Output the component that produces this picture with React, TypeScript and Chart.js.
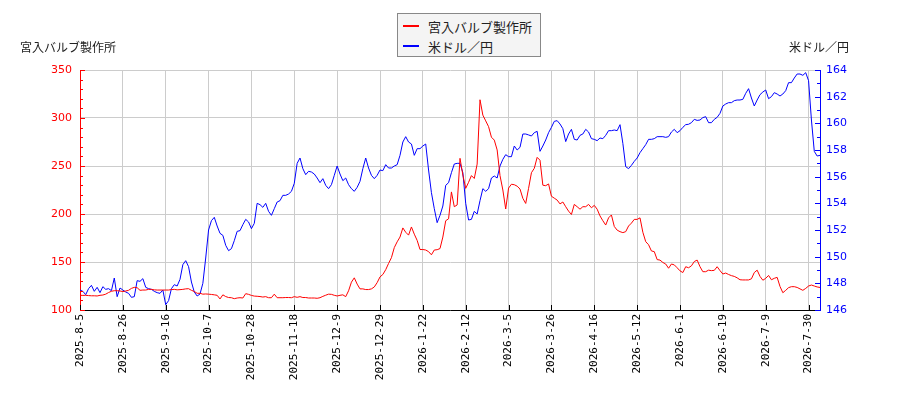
import { useEffect, useRef } from "react";
import { Chart, registerables } from "chart.js";

Chart.register(...registerables);

// x軸の目盛ラベル（15営業日ごと）
const tickLabels = [
  "2025-8-5", "2025-8-26", "2025-9-16", "2025-10-7", "2025-10-28", "2025-11-18",
  "2025-12-9", "2025-12-29", "2026-1-22", "2026-2-12", "2026-3-5", "2026-3-26",
  "2026-4-16", "2026-5-12", "2026-6-1", "2026-6-19", "2026-7-9", "2026-7-30",
];
const tickStep = 15;

// 宮入バルブ製作所 株価（円）
const stockPrice = [
  115.3, 115.2, 115.3, 115.0, 114.8, 114.8, 114.6, 115.3, 115.6, 116.5,
  118.2, 119.5, 120.1, 120.1, 119.8, 119.2, 119.8, 120.5, 122.5, 123.6,
  123.2, 120.5, 120.8, 120.8, 121.5, 121.5, 121.0, 120.8, 120.8, 120.8,
  120.8, 120.8, 121.3, 121.5, 121.0, 121.2, 121.5, 122.0, 122.2, 120.5,
  119.3, 117.4, 117.4, 116.5, 116.7, 116.5, 116.2, 115.8, 115.3, 111.5,
  115.8, 114.0, 113.0, 112.8, 111.8, 112.5, 112.8, 112.5, 117.0, 116.3,
  115.2, 114.5, 114.3, 114.0, 113.5, 113.9, 112.8, 112.8, 116.5, 112.8,
  112.8, 112.8, 113.0, 113.0, 112.8, 113.9, 113.2, 113.9, 113.0, 113.0,
  112.5, 112.5, 112.5, 112.2, 112.8, 114.2, 115.4, 116.5, 116.3, 115.3,
  114.6, 115.3, 115.8, 113.9, 120.0, 129.0, 133.5, 127.0, 122.0, 122.0,
  121.3, 121.3, 122.0, 124.0, 128.5, 134.5, 137.0, 142.0, 148.5, 154.5,
  165.0, 171.0, 176.0, 185.5, 181.0, 178.0, 186.5, 179.0, 172.5, 163.0,
  163.0, 162.5, 160.8, 157.5, 162.5, 162.8, 164.0, 176.0, 193.0, 195.0,
  223.0, 207.6, 209.4, 258.0, 240.6, 226.7, 233.0, 240.0, 237.0, 252.0,
  319.0, 303.0, 297.0, 291.0, 280.0, 277.0, 266.7, 240.0, 225.0, 205.2,
  227.0, 231.0, 230.5, 229.0, 226.0, 216.3, 211.0, 226.7, 243.0, 247.6,
  259.0, 256.0, 230.0, 229.5, 231.3, 218.5, 216.5, 214.5, 210.5, 212.5,
  207.6, 203.0, 199.5, 210.0, 207.6, 205.0, 207.6, 207.6, 210.0, 206.5,
  209.0, 205.0, 198.0, 193.0, 188.5, 196.0, 199.0, 187.0, 183.2, 181.6,
  180.6, 181.6, 187.5, 190.5, 194.4, 194.4, 196.0, 181.0, 171.2, 168.0,
  161.5, 160.8, 152.5, 152.0, 149.5, 147.9, 143.5, 147.9, 147.0, 144.0,
  140.8, 139.0, 145.1, 144.0, 146.0, 150.5, 152.0, 145.1, 139.9, 139.9,
  141.5, 141.0, 141.3, 145.1, 141.0, 137.5, 138.5, 137.0, 135.8, 135.0,
  133.5, 131.5, 131.3, 131.3, 131.3, 132.5, 139.0, 141.5, 135.0, 131.0,
  133.0, 136.0, 131.5, 133.0, 134.0, 124.5, 118.0, 120.5, 123.3, 124.3,
  124.3, 123.5, 122.0, 120.5, 122.5, 125.0, 126.0, 125.0, 124.0, 123.5,
];

// 米ドル／円
const usdJpy = [
  147.5, 147.4, 147.15, 147.6, 147.85, 147.4, 147.7, 147.3, 147.75, 147.55,
  147.6, 147.45, 148.4, 147.0, 147.65, 147.5, 147.35, 147.25, 146.95, 147.0,
  148.2, 148.15, 148.35, 147.7, 147.6, 147.55, 147.4, 147.3, 147.25, 147.5,
  146.4, 146.7, 147.6, 147.9, 147.8, 148.3, 149.4, 149.7, 149.25, 148.1,
  147.35, 147.05, 147.2, 148.0, 149.9, 152.0, 152.7, 152.95, 152.3, 151.75,
  151.6, 150.85, 150.45, 150.6, 151.2, 151.9, 151.95, 152.4, 152.8, 152.6,
  152.1, 152.5, 154.0, 153.9, 153.7, 154.0, 153.4, 153.1, 153.6, 154.1,
  154.2, 154.6, 154.6, 154.7, 154.9, 155.5, 157.0, 157.4, 156.6, 156.15,
  156.4, 156.35, 156.2, 155.9, 155.55, 155.85, 155.35, 155.1, 155.4, 156.1,
  156.8, 156.2, 155.7, 155.9, 155.4, 155.1, 154.9, 155.2, 155.65, 156.6,
  157.4, 156.65, 156.1, 155.85, 156.1, 156.5, 156.45, 156.9, 156.65, 156.65,
  156.8, 156.9, 157.6, 158.6, 159.0, 158.6, 158.45, 157.6, 158.1, 158.1,
  158.3, 158.45, 156.5, 154.8, 153.6, 152.55, 153.1, 153.8, 155.35, 155.55,
  156.3, 156.95, 157.0, 157.0, 156.3, 154.0, 152.75, 152.8, 153.4, 153.2,
  154.2, 155.1, 154.9, 155.1, 155.9, 156.05, 155.9, 156.8, 157.3, 157.65,
  157.5, 157.5, 158.3, 158.0, 158.2, 159.2, 159.2, 159.13, 159.05, 159.3,
  159.4, 157.9, 158.3, 158.75, 159.3, 159.7, 160.15, 160.2, 159.95, 159.6,
  158.63, 159.2, 159.55, 158.8, 158.75, 159.1, 159.2, 159.55, 159.35, 158.85,
  158.8, 158.7, 158.9, 158.85, 159.1, 159.45, 159.45, 159.5, 159.45, 159.9,
  158.5, 156.75, 156.6, 156.85, 157.15, 157.4, 157.8, 158.1, 158.4, 158.8,
  158.8, 158.85, 159.0, 159.0, 159.0, 158.95, 159.0, 159.35, 159.55, 159.3,
  159.45, 159.7, 159.9, 159.93, 160.05, 160.3, 160.22, 160.25, 160.43, 160.5,
  160.05, 160.05, 160.3, 160.45, 160.75, 161.3, 161.45, 161.55, 161.55, 161.7,
  161.75, 161.75, 161.8, 162.25, 162.6, 161.9, 161.3, 161.75, 162.15, 162.35,
  162.5, 161.85, 162.0, 162.3, 162.2, 162.05, 162.2, 162.45, 163.05, 163.05,
  163.4, 163.7, 163.7, 163.6, 163.8, 163.2, 160.25, 157.9, 157.55, 157.6,
];

const stockName = "宮入バルブ製作所";
const fxName = "米ドル／円";

// 目盛線を内向きに描く（小目盛込み）
const tickMarks = {
  id: "tickMarks",
  afterDraw(chart: any) {
    const { ctx, chartArea, scales } = chart;
    ctx.save();
    ctx.lineWidth = 1;
    const yl = scales.yL;
    ctx.strokeStyle = "#ff0000";
    for (let v = yl.min; v <= yl.max; v += 10) {
      const y = Math.round(yl.getPixelForValue(v)) + 0.5;
      const len = v % 50 === 0 ? 5 : 3;
      ctx.beginPath();
      ctx.moveTo(chartArea.left, y);
      ctx.lineTo(chartArea.left + len, y);
      ctx.stroke();
    }
    const yr = scales.yR;
    ctx.strokeStyle = "#0000ff";
    for (let v = yr.min; v <= yr.max; v += 1) {
      const y = Math.round(yr.getPixelForValue(v)) + 0.5;
      const len = v % 2 === 0 ? 5 : 3;
      ctx.beginPath();
      ctx.moveTo(chartArea.right - len, y);
      ctx.lineTo(chartArea.right, y);
      ctx.stroke();
    }
    const xs = scales.x;
    ctx.strokeStyle = "#000000";
    xs.ticks.forEach((t: any) => {
      const x = Math.round(xs.getPixelForValue(t.value)) + 0.5;
      ctx.beginPath();
      ctx.moveTo(x, chartArea.bottom);
      ctx.lineTo(x, chartArea.bottom - 5);
      ctx.stroke();
    });
    ctx.restore();
  },
};

export default function App() {
  const canvasRef = useRef<HTMLCanvasElement>(null);
  const chartRef = useRef<Chart | null>(null);

  useEffect(() => {
    document.body.style.margin = "0";
    if (!canvasRef.current) return;
    chartRef.current?.destroy();

    chartRef.current = new Chart(canvasRef.current, {
      type: "line",
      data: {
        datasets: [
          {
            label: stockName,
            data: stockPrice.map((v, i) => ({ x: i, y: v })),
            borderColor: "#ff0000",
            borderWidth: 1,
            pointRadius: 0,
            tension: 0,
            yAxisID: "yL",
          },
          {
            label: fxName,
            data: usdJpy.map((v, i) => ({ x: i, y: v })),
            borderColor: "#0000ff",
            borderWidth: 1,
            pointRadius: 0,
            tension: 0,
            yAxisID: "yR",
          },
        ],
      },
      options: {
        responsive: false,
        animation: false,
        layout: { padding: { top: 70, left: 0, right: 0, bottom: 0 } },
        plugins: {
          legend: { display: false },
          tooltip: { enabled: false },
        },
        scales: {
          x: {
            type: "linear",
            min: 0,
            max: stockPrice.length - 1,
            afterBuildTicks: (scale: any) => {
              scale.ticks = tickLabels.map((_, k) => ({ value: k * tickStep }));
            },
            afterFit: (scale: any) => {
              scale.height = 90;
            },
            grid: { color: "#cccccc", drawTicks: false },
            border: { color: "#000000" },
            ticks: {
              autoSkip: false,
              minRotation: 90,
              maxRotation: 90,
              padding: 4,
              color: "#000000",
              font: { family: "DejaVu Sans Mono", size: 11 },
              callback: (v: any) => tickLabels[Math.round(v / tickStep)] ?? "",
            },
          },
          yL: {
            position: "left",
            min: 100,
            max: 350,
            afterFit: (scale: any) => {
              scale.width = 80;
            },
            grid: { color: "#cccccc", drawTicks: false },
            border: { color: "#ff0000" },
            ticks: {
              stepSize: 50,
              padding: 8,
              color: "#ff0000",
              font: { family: "DejaVu Sans", size: 11 },
            },
          },
          yR: {
            position: "right",
            min: 146,
            max: 164,
            afterFit: (scale: any) => {
              scale.width = 80;
            },
            grid: { drawOnChartArea: false, drawTicks: false },
            border: { color: "#0000ff" },
            ticks: {
              stepSize: 2,
              padding: 6,
              color: "#0000ff",
              font: { family: "DejaVu Sans", size: 11 },
            },
          },
        },
      },
      plugins: [tickMarks],
    });

    return () => {
      chartRef.current?.destroy();
      chartRef.current = null;
    };
  }, []);

  const cjk = '"Noto Sans CJK JP", sans-serif';

  return (
    <div style={{ position: "relative", width: 900, height: 400 }}>
      <canvas ref={canvasRef} width={900} height={400} />
      <div style={{ position: "absolute", left: 20, top: 38, fontFamily: cjk, fontSize: 12, color: "#222" }}>
        {stockName}
      </div>
      <div style={{ position: "absolute", left: 789, top: 38, fontFamily: cjk, fontSize: 12, color: "#222" }}>
        {fxName}
      </div>
      <div
        style={{
          position: "absolute",
          left: 397,
          top: 13,
          width: 142,
          height: 42,
          background: "#f4f4f4",
          border: "1px solid #888",
          fontFamily: cjk,
          fontSize: 13,
          color: "#222",
        }}
      >
        {[
          { name: stockName, color: "#ff0000" },
          { name: fxName, color: "#0000ff" },
        ].map((item, k) => (
          <div key={k} style={{ position: "absolute", left: 5, top: 3 + k * 20, height: 18, display: "flex", alignItems: "center" }}>
            <span style={{ display: "inline-block", width: 16, height: 2, background: item.color, marginRight: 9 }} />
            <span>{item.name}</span>
          </div>
        ))}
      </div>
    </div>
  );
}
